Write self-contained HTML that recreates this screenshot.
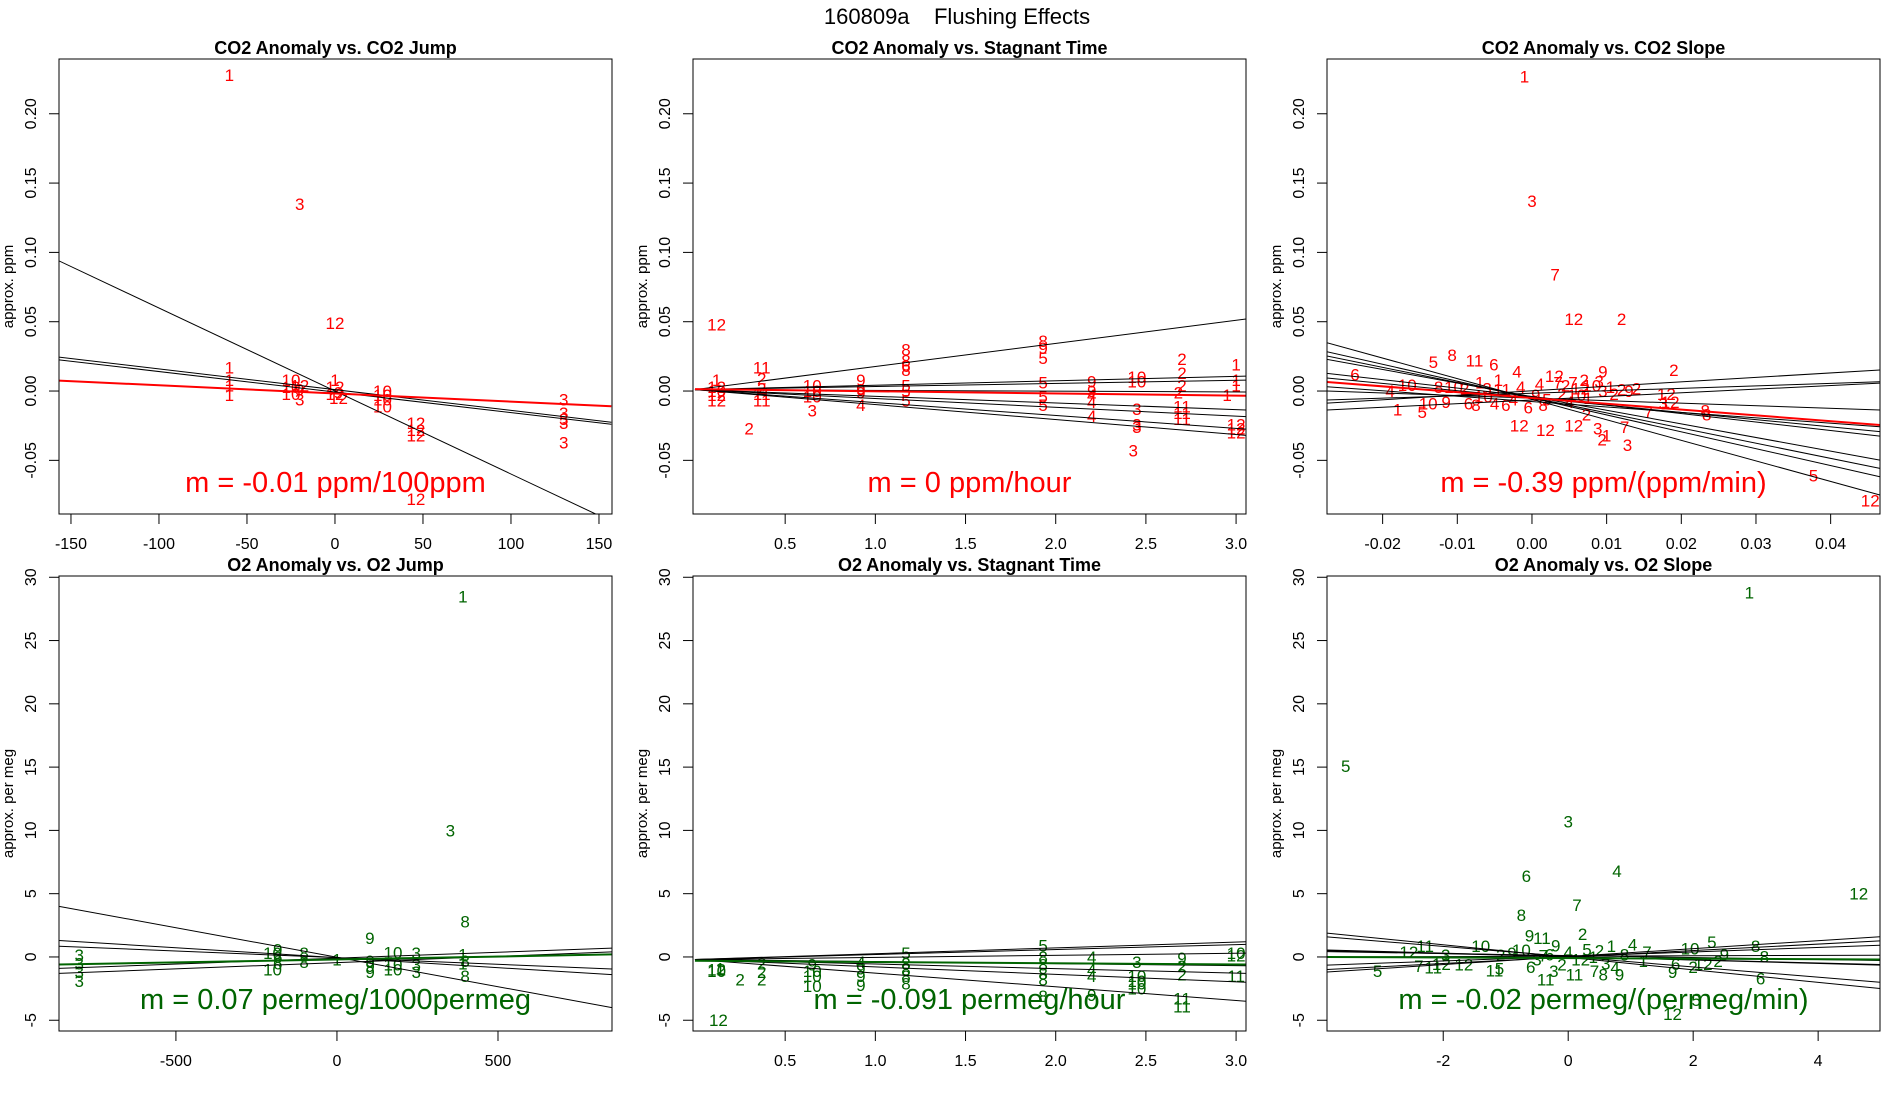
<!DOCTYPE html>
<html><head><meta charset="utf-8">
<style>
html,body{margin:0;padding:0;background:#fff;}
svg{display:block;font-family:"Liberation Sans",sans-serif;}
</style></head>
<body>
<svg id="chart" width="1900" height="1100" viewBox="0 0 1900 1100" xmlns="http://www.w3.org/2000/svg">
<rect width="1900" height="1100" fill="#fff"/>
<text x="957" y="24" font-size="22" text-anchor="middle" style="white-space:pre" xml:space="preserve">160809a    Flushing Effects</text>
</svg>
<script>
// ---------- data ----------
const co2YTicks = [-0.05, 0, 0.05, 0.10, 0.15, 0.20];
const co2YTickLabels = ["-0.05","0.00","0.05","0.10","0.15","0.20"];
const o2YTicks = [-5, 0, 5, 10, 15, 20, 25, 30];
const o2YTickLabels = ["-5","0","5","10","15","20","25","30"];

const p1XTicks = [-150,-100,-50,0,50,100,150];
const p1XTickLabels = ["-150","-100","-50","0","50","100","150"];
const p2XTicks = [0.5,1.0,1.5,2.0,2.5,3.0];
const p2XTickLabels = ["0.5","1.0","1.5","2.0","2.5","3.0"];
const p3XTicks = [-0.02,-0.01,0,0.01,0.02,0.03,0.04];
const p3XTickLabels = ["-0.02","-0.01","0.00","0.01","0.02","0.03","0.04"];
const p4XTicks = [-500,0,500];
const p4XTickLabels = ["-500","0","500"];
const p6XTicks = [-2,0,2,4];
const p6XTickLabels = ["-2","0","2","4"];

// points: [x, y, label]
const p1Points = [[-60,0.228,"1"],[-20,0.135,"3"],[0,0.049,"12"],[-60,0.017,"1"],[-60,0.008,"1"],[-60,0.004,"1"],[-60,-0.003,"1"],
 [-25,0.008,"10"],[-25,0.003,"10"],[-25,-0.002,"10"],[-20,-0.006,"3"],[-20,0.004,"12"],[-20,0.001,"9"],
 [0,0.008,"1"],[0,0.003,"12"],[0,-0.002,"12"],[2,-0.005,"12"],[2,-0.001,"9"],
 [27,0,"10"],[27,-0.003,"10"],[27,-0.006,"10"],[27,-0.011,"10"],
 [46,-0.023,"12"],[46,-0.028,"12"],[46,-0.032,"12"],[46,-0.078,"12"],
 [130,-0.006,"3"],[130,-0.016,"3"],[130,-0.020,"3"],[130,-0.023,"3"],[130,-0.037,"3"]];
const p2Points = [[0.12,0.048,"12"],[0.12,0.008,"1"],[0.12,0.003,"12"],[0.12,0,"10"],[0.12,-0.003,"12"],[0.12,-0.007,"12"],[0.3,-0.027,"2"],
 [0.37,0.017,"11"],[0.37,0.009,"2"],[0.37,0.002,"2"],[0.37,-0.002,"11"],[0.37,-0.007,"11"],
 [0.65,0.004,"10"],[0.65,0,"10"],[0.65,-0.004,"10"],[0.65,-0.014,"3"],
 [0.92,0.008,"9"],[0.92,0.001,"9"],[0.92,-0.001,"9"],[0.92,-0.010,"4"],
 [1.17,0.030,"8"],[1.17,0.022,"8"],[1.17,0.015,"8"],[1.17,0.018,"6"],[1.17,0.004,"5"],[1.17,0,"5"],[1.17,-0.007,"5"],
 [1.93,0.036,"8"],[1.93,0.031,"9"],[1.93,0.024,"5"],[1.93,0.006,"5"],[1.93,-0.004,"5"],[1.93,-0.010,"5"],
 [2.2,0.007,"9"],[2.2,0,"9"],[2.2,-0.003,"4"],[2.2,-0.008,"4"],[2.2,-0.018,"4"],
 [2.45,0.010,"10"],[2.45,0.007,"10"],[2.45,-0.013,"3"],[2.45,-0.024,"3"],[2.45,-0.026,"3"],[2.43,-0.043,"3"],
 [2.7,0.023,"2"],[2.7,0.013,"2"],[2.7,0.004,"2"],[2.68,-0.001,"2"],[2.7,-0.011,"11"],[2.7,-0.016,"11"],[2.7,-0.020,"11"],
 [3.0,0.019,"1"],[3.0,0.008,"1"],[3.0,0.004,"1"],[2.95,-0.003,"1"],[3.0,-0.024,"12"],[3.0,-0.027,"12"],[3.0,-0.030,"12"]];
const p3Points = [[-0.001,0.227,"1"],[0,0.137,"3"],[0.0031,0.084,"7"],[0.0056,0.052,"12"],[0.012,0.052,"2"],[0.019,0.015,"2"],[0.0095,0.014,"9"],
 [-0.0132,0.021,"5"],[-0.0107,0.026,"8"],[-0.0077,0.022,"11"],[-0.0051,0.019,"6"],[-0.0237,0.012,"6"],[-0.019,0.0,"4"],[-0.0167,0.0045,"10"],
 [-0.018,-0.0135,"1"],[-0.0147,-0.015,"5"],[-0.0139,-0.009,"10"],[-0.0115,-0.008,"9"],[-0.0125,0.003,"8"],[-0.0105,0.003,"10"],
 [-0.009,0.002,"2"],[-0.0085,-0.009,"6"],[-0.0075,-0.01,"8"],[-0.007,0.006,"1"],[-0.006,0.002,"3"],[-0.0065,-0.004,"10"],[-0.005,-0.009,"4"],
 [-0.0045,0.008,"1"],[-0.004,0.001,"11"],[-0.0035,-0.01,"6"],[-0.0025,-0.006,"4"],[-0.002,0.014,"4"],[-0.0015,0.003,"4"],[-0.0005,-0.012,"6"],
 [0.0005,-0.003,"9"],[0.001,0.005,"4"],[0.0015,-0.01,"8"],[0.002,-0.006,"5"],[0.003,0.011,"12"],[0.0035,0.006,"7"],[0.004,-0.002,"2"],
 [0.0045,0.004,"2"],[0.005,-0.008,"4"],[0.0055,0.006,"7"],[0.006,-0.003,"10"],[0.0065,0.002,"12"],[0.007,0.008,"2"],[0.0075,-0.005,"1"],
 [0.008,0.004,"10"],[0.009,0.007,"3"],[0.0095,0.0,"3"],[0.0105,0.003,"1"],[0.011,-0.002,"2"],[0.012,0.001,"2"],[0.013,0.0,"9"],[0.014,0.002,"2"],
 [0.018,-0.002,"12"],[0.0185,-0.008,"12"],[0.0176,-0.009,"3"],[0.0232,-0.014,"8"],[0.0234,-0.017,"8"],
 [0.0156,-0.015,"7"],[0.0124,-0.026,"7"],[0.0128,-0.039,"3"],[0.010,-0.032,"1"],[0.0094,-0.035,"2"],[0.0056,-0.025,"12"],[0.0018,-0.028,"12"],
 [-0.0017,-0.025,"12"],[0.0088,-0.027,"3"],[0.0073,-0.017,"2"],[0.0377,-0.061,"5"],[0.0453,-0.079,"12"]];

const p4Points = [[391,28.5,"1"],[352,10.0,"3"],[398,2.8,"8"],[102,1.5,"9"],[174,0.35,"10"],
 [391,0.2,"1"],[391,-0.5,"1"],[246,0.3,"3"],[246,-0.6,"3"],[246,-1.2,"3"],[398,-1.5,"8"],[398,-0.3,"8"],
 [-200,0.3,"10"],[-184,0.6,"9"],[-184,0.0,"6"],[-184,-0.5,"6"],[-200,-1.0,"10"],[-102,0.3,"8"],[-102,-0.4,"8"],[0,-0.2,"1"],
 [103,-0.3,"9"],[103,-0.7,"9"],[103,-1.2,"9"],[174,-0.6,"10"],[174,-1.0,"10"],
 [-800,0.16,"3"],[-800,-0.5,"3"],[-800,-1.2,"3"],[-800,-1.9,"3"]];
const p5Points = [[0.13,-5.0,"12"],[0.12,-1.0,"12"],[0.12,-1.1,"10"],[0.14,-0.9,"1"],[0.25,-1.8,"2"],
 [0.37,-0.5,"2"],[0.37,-1.2,"2"],[0.37,-1.8,"2"],
 [0.65,-0.6,"9"],[0.65,-1.1,"10"],[0.65,-1.5,"10"],[0.65,-2.3,"10"],
 [0.92,-0.4,"4"],[0.92,-0.9,"9"],[0.92,-1.5,"9"],[0.92,-2.2,"9"],
 [1.17,0.3,"5"],[1.17,-0.5,"8"],[1.17,-1.0,"8"],[1.17,-1.5,"8"],[1.17,-2.1,"8"],
 [1.93,0.9,"5"],[1.93,0.0,"8"],[1.93,-0.6,"8"],[1.93,-1.3,"8"],[1.93,-1.8,"8"],[1.93,-3.1,"8"],
 [2.2,0.0,"4"],[2.2,-1.0,"4"],[2.2,-1.5,"4"],[2.2,-3.0,"9"],
 [2.45,-0.4,"3"],[2.45,-1.5,"10"],[2.45,-1.9,"10"],[2.45,-2.1,"10"],[2.45,-2.5,"10"],
 [2.7,-0.1,"9"],[2.7,-0.7,"2"],[2.7,-1.4,"2"],[2.7,-3.3,"11"],[2.7,-3.9,"11"],
 [3.0,0.3,"10"],[3.0,0.1,"12"],[3.0,-1.5,"11"]];
const p6Points = [[2.9,28.8,"1"],[-3.56,15.1,"5"],[0,10.7,"3"],[-0.67,6.4,"6"],[0.78,6.8,"4"],[4.65,5.0,"12"],[0.14,4.1,"7"],[-0.75,3.3,"8"],
 [0.23,1.8,"2"],[-0.62,1.7,"9"],[-0.42,1.5,"11"],[-3.05,-1.1,"5"],[1.67,-4.5,"12"],[2.05,-3.4,"5"],[3.08,-1.7,"6"],[3.0,0.85,"8"],[3.14,0.05,"8"],
 [2.3,1.2,"5"],[1.67,-1.2,"9"],[1.95,0.65,"10"],[1.03,1.0,"4"],[-2.55,0.4,"12"],[-2.29,0.85,"11"],[-2.39,-0.7,"7"],[-2.16,-0.85,"11"],
 [-2.03,-0.56,"12"],[-1.96,0.14,"3"],[-1.4,0.85,"10"],[-1.67,-0.6,"12"],[-1.18,-1.07,"11"],[-1.08,0.14,"2"],[-0.75,0.56,"10"],[0.69,0.85,"1"],
 [0.75,-0.85,"4"],[0.56,-1.4,"8"],[0.82,-1.4,"9"],[0.42,-1.1,"7"],[-0.36,-1.8,"11"],[-0.23,-1.1,"3"],[0.1,-1.4,"11"],[2.16,-0.56,"12"],
 [1.2,-0.3,"1"],[1.72,-0.56,"6"],[1.26,0.4,"7"],[-1.1,-0.9,"5"],[-0.9,0.3,"9"],[-0.5,-0.2,"3"],[-0.3,0.2,"6"],[-0.2,0.9,"9"],
 [-0.1,-0.6,"2"],[0.0,0.4,"4"],[0.2,-0.2,"12"],[0.3,0.6,"5"],[0.4,0.0,"1"],[0.5,0.5,"2"],[0.6,-0.5,"3"],[-0.6,-0.8,"6"],[-0.4,0.1,"7"],
 [0.9,0.2,"8"],[2.4,-0.3,"2"],[2.5,0.2,"9"],[2.0,-0.8,"2"]];

// lines: [x1, y1, x2, y2] in data units
const p1Lines = [[-157,0.094,157,-0.094],[-157,0.0245,157,-0.0225],[-157,0.0225,157,-0.024]];
const p1Fit = [-157,0.0075,157,-0.011];
const p2Lines = [[0,0.001,3.06,0.052],[0,0.001,3.06,0.0108],[0,0.001,3.06,0.0079],[0,0.001,3.06,-0.0007],[0,0.001,3.06,-0.0137],[0,0.001,3.06,-0.0185],[0,0.001,3.06,-0.0275],[0,0.001,3.06,-0.032]];
const p2Fit = [0,0.0014,3.06,-0.0034];
const p3Lines = [[-0.0275,0.0349,0.0466,-0.075],[-0.0275,0.0284,0.0466,-0.0618],[-0.0275,0.0253,0.0466,-0.0558],[-0.0275,0.0229,0.0466,-0.0498],
 [-0.0275,0.0128,0.0466,-0.0325],[-0.0275,0.0094,0.0466,-0.0293],[-0.0275,0.0031,0.0466,-0.0258],[-0.0275,-0.0065,0.0466,0.0067],
 [-0.0275,-0.0087,0.0466,0.0152],[-0.0275,-0.0137,0.0466,0.0057],[-0.0275,0.0,0.0466,-0.0137]];
const p3Fit = [-0.0275,0.0065,0.0466,-0.0245];
const p4Lines = [[-863,4.0,854,-4.0],[-863,1.3,854,-1.4],[-863,0.85,854,-0.95],[-863,-0.9,854,0.7],[-863,-1.3,854,0.4]];
const p4Fit = [-863,-0.6,854,0.2];
const p5Lines = [[0,-0.2,3.06,1.2],[0,-0.2,3.06,1.0],[0,-0.2,3.06,0.3],[0,-0.2,3.06,-0.7],[0,-0.2,3.06,-1.3],[0,-0.2,3.06,-2.0],[0,-0.2,3.06,-3.5]];
const p5Fit = [0,-0.3,3.06,-0.6];
const p6Lines = [[-3.9,1.9,5.0,-2.5],[-3.9,1.6,5.0,-2.0],[-3.9,0.56,5.0,-0.65],[-3.9,0.5,5.0,-0.6],[-3.9,0.42,5.0,-0.28],[-3.9,-0.65,5.0,0.93],[-3.9,-1.0,5.0,1.27],[-3.9,-1.2,5.0,1.6],[-3.9,0.0,5.0,0.14]];
const p6Fit = [-3.9,0.0,5.0,-0.2];

// ---------- rendering ----------
const NS = "http://www.w3.org/2000/svg";
const svg = document.getElementById("chart");
function mk(tag, attrs, parent) {
  const e = document.createElementNS(NS, tag);
  for (const k in attrs) e.setAttribute(k, attrs[k]);
  (parent || svg).appendChild(e);
  return e;
}
const RED = "#ff0000", GREEN = "#006400";
const panels = [
  {id:"p1", box:[59,59,612,514], xd:[-156.8,157.4], yd:[-0.0887,0.2395], xt:p1XTicks, xl:p1XTickLabels, yt:co2YTicks, yl:co2YTickLabels,
   title:"CO2 Anomaly vs. CO2 Jump", ylab:"approx. ppm", pts:p1Points, lines:p1Lines, fit:p1Fit, col:RED, stat:"m = -0.01 ppm/100ppm"},
  {id:"p2", box:[693,59,1246,514], xd:[-0.011,3.055], yd:[-0.0887,0.2395], xt:p2XTicks, xl:p2XTickLabels, yt:co2YTicks, yl:co2YTickLabels,
   title:"CO2 Anomaly vs. Stagnant Time", ylab:"approx. ppm", pts:p2Points, lines:p2Lines, fit:p2Fit, col:RED, stat:"m = 0 ppm/hour"},
  {id:"p3", box:[1327,59,1880,514], xd:[-0.02745,0.04661], yd:[-0.0887,0.2395], xt:p3XTicks, xl:p3XTickLabels, yt:co2YTicks, yl:co2YTickLabels,
   title:"CO2 Anomaly vs. CO2 Slope", ylab:"approx. ppm", pts:p3Points, lines:p3Lines, fit:p3Fit, col:RED, stat:"m = -0.39 ppm/(ppm/min)"},
  {id:"p4", box:[59,576,612,1031], xd:[-863,854], yd:[-5.85,30.1], xt:p4XTicks, xl:p4XTickLabels, yt:o2YTicks, yl:o2YTickLabels,
   title:"O2 Anomaly vs. O2 Jump", ylab:"approx. per meg", pts:p4Points, lines:p4Lines, fit:p4Fit, col:GREEN, stat:"m = 0.07 permeg/1000permeg"},
  {id:"p5", box:[693,576,1246,1031], xd:[-0.011,3.055], yd:[-5.85,30.1], xt:p2XTicks, xl:p2XTickLabels, yt:o2YTicks, yl:o2YTickLabels,
   title:"O2 Anomaly vs. Stagnant Time", ylab:"approx. per meg", pts:p5Points, lines:p5Lines, fit:p5Fit, col:GREEN, stat:"m = -0.091 permeg/hour"},
  {id:"p6", box:[1327,576,1880,1031], xd:[-3.86,4.99], yd:[-5.85,30.1], xt:p6XTicks, xl:p6XTickLabels, yt:o2YTicks, yl:o2YTickLabels,
   title:"O2 Anomaly vs. O2 Slope", ylab:"approx. per meg", pts:p6Points, lines:p6Lines, fit:p6Fit, col:GREEN, stat:"m = -0.02 permeg/(permeg/min)"}
];

panels.forEach((p, pi) => {
  const [L,T,R,B] = p.box;
  const sx = v => L + (v - p.xd[0]) / (p.xd[1] - p.xd[0]) * (R - L);
  const sy = v => B - (v - p.yd[0]) / (p.yd[1] - p.yd[0]) * (B - T);
  const g = mk("g", {});
  
  
  const cp = mk("clipPath", {id:"clip"+pi}, g);
  mk("rect", {x:L, y:T, width:R-L, height:B-T}, cp);

  const title = mk("text", {x:(L+R)/2, y:T-5, "font-size":18, "font-weight":"bold", "text-anchor":"middle"}, g);
  title.textContent = p.title;
  
  

  const yl = mk("text", {transform:`translate(${L-46},${(T+B)/2}) rotate(-90)`, "font-size":15, "text-anchor":"middle"}, g);
  yl.textContent = p.ylab;
  
  

  p.xt.forEach((v, i) => {
    const x = sx(v);
    const t = mk("line", {x1:x, y1:B, x2:x, y2:B+10, stroke:"#000", "stroke-width":1}, g);
    
    
    const lb = mk("text", {x:x, y:B+35, "font-size":16, "text-anchor":"middle"}, g);
    lb.textContent = p.xl[i];
    
    
  });
  p.yt.forEach((v, i) => {
    const y = sy(v);
    const t = mk("line", {x1:L-10, y1:y, x2:L, y2:y, stroke:"#000", "stroke-width":1}, g);
    
    
    const lb = mk("text", {transform:`translate(${L-23},${y}) rotate(-90)`, "font-size":16, "text-anchor":"middle"}, g);
    lb.textContent = p.yl[i];
    
    
  });

  const plot = mk("g", {"clip-path":`url(#clip${pi})`}, g);
  
  

  p.pts.forEach(pt => {
    const tx = mk("text", {x:sx(pt[0]), y:sy(pt[1]) + 6, "font-size":17, fill:p.col, "text-anchor":"middle"}, plot);
    tx.textContent = pt[2];
    
    
  });
  p.lines.forEach(ln => {
    const l = mk("line", {x1:sx(ln[0]), y1:sy(ln[1]), x2:sx(ln[2]), y2:sy(ln[3]), stroke:"#000", "stroke-width":1}, plot);
    
    
  });
  const f = p.fit;
  const fl = mk("line", {x1:sx(f[0]), y1:sy(f[1]), x2:sx(f[2]), y2:sy(f[3]), stroke:p.col, "stroke-width":2}, plot);
  
  

  const st = mk("text", {x:(L+R)/2, y:T+433, "font-size":29, fill:p.col, "text-anchor":"middle"}, g);
  st.textContent = p.stat;
  
  

  const box = mk("rect", {x:L, y:T, width:R-L, height:B-T, fill:"none", stroke:"#000", "stroke-width":1}, g);
  
  
});
</script>
</body></html>
